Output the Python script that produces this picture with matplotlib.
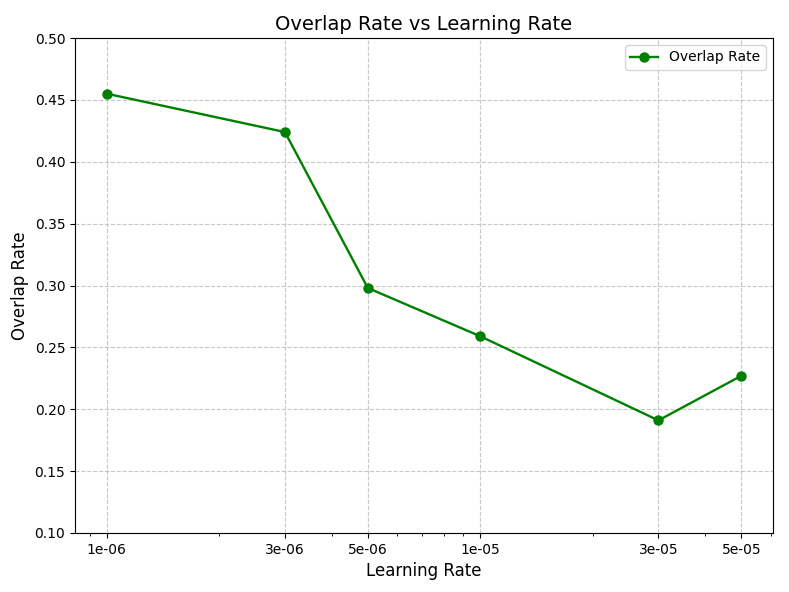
import numpy as np
import matplotlib
matplotlib.use('Agg')
import matplotlib.pyplot as plt

learningRates = [1e-6, 3e-6, 5e-6, 1e-5, 3e-5, 5e-5]
tickLabels = ['1e-06', '3e-06', '5e-06', '1e-05', '3e-05', '5e-05']
overlapRates = [0.455, 0.424, 0.298, 0.259, 0.191, 0.227]

fig = plt.figure(figsize=(7.89, 5.92), dpi=100)
ax = fig.add_axes([75 / 789, 1 - 533 / 592, 698 / 789, 495 / 592])

ax.plot(learningRates, overlapRates, '-o', color='green', markersize=6.5,
        linewidth=1.7, label='Overlap Rate')
ax.set_xscale('log')
ax.set_xticks(learningRates)
ax.set_xticklabels(tickLabels)
ax.set_ylim(0.1, 0.5)
ax.set_yticks(np.arange(0.1, 0.51, 0.05))
ax.tick_params(labelsize=10)
ax.set_xlabel('Learning Rate', fontsize=12)
ax.set_ylabel('Overlap Rate', fontsize=12)
ax.set_title('Overlap Rate vs Learning Rate', fontsize=14)
ax.grid(True, linestyle='--', alpha=0.7)
ax.legend(loc='upper right', fontsize=10)

fig.savefig('out.png', dpi=100)
